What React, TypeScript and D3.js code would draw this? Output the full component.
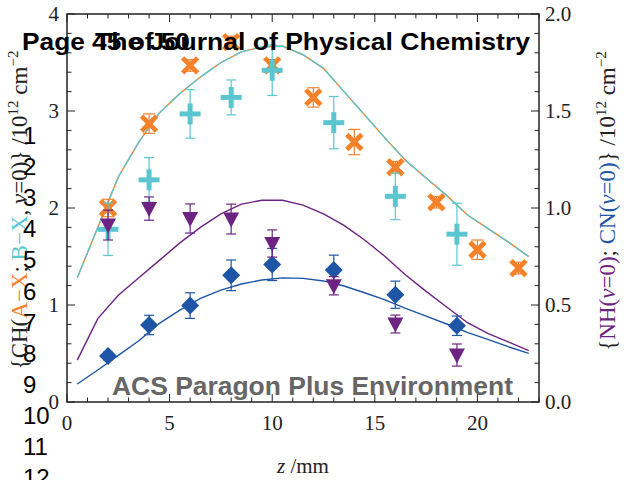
import React from "react";
import * as d3 from "d3";

// ---- data ----
const zOrange = [2, 4, 6, 8, 10, 12, 14, 16, 18, 20, 22];
const chAX = [2.0, 2.87, 3.47, 3.71, 3.47, 3.14, 2.68, 2.42, 2.06, 1.57, 1.38];
const chAXErr = [0.09, 0.1, 0.06, 0.06, 0.06, 0.1, 0.13, 0.06, 0.06, 0.1, 0.06];

const zCyan = [2, 4, 6, 8, 10, 13, 16, 19];
const chBX = [1.78, 2.29, 2.97, 3.14, 3.42, 2.88, 2.12, 1.73];
const chBXErr = [0.27, 0.23, 0.25, 0.18, 0.26, 0.27, 0.24, 0.32];

const zNC = [2, 4, 6, 8, 10, 13, 16, 19];
const nh = [0.912, 0.997, 0.946, 0.943, 0.817, 0.599, 0.402, 0.242];
const nhErr = [0.077, 0.06, 0.075, 0.077, 0.07, 0.047, 0.046, 0.057];
const cn = [0.237, 0.397, 0.497, 0.653, 0.709, 0.68, 0.553, 0.393];
const cnErr = [0.02, 0.05, 0.066, 0.079, 0.083, 0.077, 0.07, 0.05];

const zModel = [0.5, 1.5, 2.5, 3.5, 4.5, 5.5, 6.5, 7.5, 8.5, 9.5, 10.5, 11.5, 12.5, 13.5, 14.5, 15.5, 16.5, 17.5, 18.5, 19.5, 20.5, 21.5, 22.5];
const chModel = [1.28, 1.8, 2.32, 2.68, 2.98, 3.18, 3.35, 3.5, 3.61, 3.66, 3.67, 3.58, 3.44, 3.2, 2.96, 2.72, 2.49, 2.31, 2.13, 1.93, 1.79, 1.65, 1.5];
const nhModel = [0.216, 0.43, 0.55, 0.64, 0.73, 0.82, 0.9, 0.97, 1.02, 1.04, 1.04, 1.015, 0.97, 0.91, 0.835, 0.75, 0.655, 0.57, 0.49, 0.41, 0.354, 0.31, 0.265];
const cnModel = [0.093, 0.165, 0.24, 0.316, 0.405, 0.474, 0.534, 0.577, 0.608, 0.629, 0.64, 0.637, 0.624, 0.598, 0.563, 0.526, 0.483, 0.443, 0.402, 0.359, 0.323, 0.285, 0.251];

const xTicks = [0, 5, 10, 15, 20];
const yLeftTicks = [0, 1, 2, 3, 4];
const yRightTicks = [0, 0.5, 1.0, 1.5, 2.0];
const lineNumbers = [1, 2, 3, 4, 5, 6, 7, 8, 9, 10, 11, 12];

const ORANGE = "#F5822B";
const CYAN = "#5CC6D0";
const PURPLE = "#6D2382";
const BLUE = "#1E55A5";

const SERIF = "'Liberation Serif', 'Times New Roman', serif";
const SANS = "'Liberation Sans', Arial, sans-serif";

export default function App() {
  const W = 624, H = 480;
  const x = d3.scaleLinear().domain([0, 23]).range([67, 539]);
  const yL = d3.scaleLinear().domain([0, 4]).range([402, 14]);
  const yR = d3.scaleLinear().domain([0, 2]).range([402, 14]);
  const [x0, x1] = x.range();
  const [yb, yt] = yL.range();

  const lineL = d3.line<number>().x((_, i) => x(zModel[i])).y((d) => yL(d));
  const lineR = d3.line<number>().x((_, i) => x(zModel[i])).y((d) => yR(d));

  const minorX = d3.range(0, 24, 1);
  const minorL = d3.range(0, 4.001, 0.2);
  const minorR = d3.range(0, 2.001, 0.1);

  const errBar = (cx: number, yTop: number, yBot: number, color: string, cap: number, key: string) => (
    <g key={key} stroke={color} strokeWidth={1.2}>
      <line x1={cx} x2={cx} y1={yTop} y2={yBot} />
      <line x1={cx - cap} x2={cx + cap} y1={yTop} y2={yTop} />
      <line x1={cx - cap} x2={cx + cap} y1={yBot} y2={yBot} />
    </g>
  );

  return (
    <svg width={W} height={H} style={{ position: "absolute", left: 0, top: 0, background: "#fff" }}>
      <rect x={0} y={0} width={W} height={H} fill="#fff" />

      {/* model curves */}
      <path d={lineL(chModel) || ""} fill="none" stroke={ORANGE} strokeWidth={1.4} />
      <path d={lineL(chModel) || ""} fill="none" stroke={CYAN} strokeWidth={1.4} strokeDasharray="16 4" />
      <path d={lineR(nhModel) || ""} fill="none" stroke={PURPLE} strokeWidth={1.4} />
      <path d={lineR(cnModel) || ""} fill="none" stroke={BLUE} strokeWidth={1.4} />

      {/* CH(A-X) orange X */}
      {zOrange.map((z, i) => {
        const cx = x(z), cy = yL(chAX[i]);
        return (
          <g key={"o" + i}>
            {errBar(cx, yL(chAX[i] + chAXErr[i]), yL(chAX[i] - chAXErr[i]), ORANGE, 6, "oe" + i)}
            <g stroke={ORANGE} strokeWidth={4.8}>
              <line x1={cx - 7.5} y1={cy - 7.5} x2={cx + 7.5} y2={cy + 7.5} />
              <line x1={cx - 7.5} y1={cy + 7.5} x2={cx + 7.5} y2={cy - 7.5} />
            </g>
          </g>
        );
      })}

      {/* CH(B-X) cyan + */}
      {zCyan.map((z, i) => {
        const cx = x(z), cy = yL(chBX[i]);
        return (
          <g key={"c" + i}>
            {errBar(cx, yL(chBX[i] + chBXErr[i]), yL(chBX[i] - chBXErr[i]), CYAN, 5, "ce" + i)}
            <g stroke={CYAN} strokeWidth={5}>
              <line x1={cx - 10.5} y1={cy} x2={cx + 10.5} y2={cy} />
              <line x1={cx} y1={cy - 10.5} x2={cx} y2={cy + 10.5} />
            </g>
          </g>
        );
      })}

      {/* CN blue diamonds */}
      {zNC.map((z, i) => {
        const cx = x(z), cy = yR(cn[i]);
        return (
          <g key={"b" + i}>
            {errBar(cx, yR(cn[i] + cnErr[i]), yR(cn[i] - cnErr[i]), BLUE, 5, "be" + i)}
            <path d={`M${cx},${cy - 9}L${cx + 9},${cy}L${cx},${cy + 9}L${cx - 9},${cy}Z`} fill={BLUE} />
          </g>
        );
      })}

      {/* NH purple triangles */}
      {zNC.map((z, i) => {
        const cx = x(z), cy = yR(nh[i]);
        return (
          <g key={"p" + i}>
            {errBar(cx, yR(nh[i] + nhErr[i]), yR(nh[i] - nhErr[i]), PURPLE, 5, "pe" + i)}
            <path d={`M${cx - 8},${cy - 6.5}L${cx + 8},${cy - 6.5}L${cx},${cy + 8.5}Z`} fill={PURPLE} />
          </g>
        );
      })}

      {/* axes frame */}
      <rect x={x0} y={yt} width={x1 - x0} height={yb - yt} fill="none" stroke="#222" strokeWidth={1.5} />

      {/* x ticks (bottom & top) */}
      {minorX.map((t) => {
        const major = t % 5 === 0;
        const len = major ? 8 : 4.5;
        return (
          <g key={"xt" + t} stroke="#222" strokeWidth={1}>
            <line x1={x(t)} x2={x(t)} y1={yb} y2={yb - len} />
            <line x1={x(t)} x2={x(t)} y1={yt} y2={yt + len} />
          </g>
        );
      })}
      {/* left ticks */}
      {minorL.map((t, i) => {
        const major = i % 5 === 0;
        const len = major ? 8 : 4.5;
        return <line key={"yl" + i} x1={x0} x2={x0 + len} y1={yL(t)} y2={yL(t)} stroke="#222" strokeWidth={1} />;
      })}
      {/* right ticks */}
      {minorR.map((t, i) => {
        const major = i % 5 === 0;
        const len = major ? 8 : 4.5;
        return <line key={"yr" + i} x1={x1} x2={x1 - len} y1={yR(t)} y2={yR(t)} stroke="#222" strokeWidth={1} />;
      })}

      {/* tick labels */}
      <g fontFamily={SERIF} fontSize={21} fill="#222">
        {xTicks.map((t) => (
          <text key={"xl" + t} x={x(t)} y={430} textAnchor="middle">{t}</text>
        ))}
        {yLeftTicks.map((t) => (
          <text key={"ll" + t} x={59} y={yL(t) + 7} textAnchor="end">{t}</text>
        ))}
        {yRightTicks.map((t) => (
          <text key={"rl" + t} x={545} y={yR(t) + 7} textAnchor="start">{t.toFixed(1)}</text>
        ))}
      </g>

      {/* x axis title */}
      <text x={303} y={473} textAnchor="middle" fontFamily={SERIF} fontSize={21} fill="#222">
        <tspan fontStyle="italic">z</tspan> /mm
      </text>

      {/* left axis title */}
      <text transform={`translate(27,${210}) rotate(-90)`} textAnchor="middle" fontFamily={SERIF} fontSize={23} fill="#222">
        <tspan>{"{CH("}</tspan>
        <tspan fill={ORANGE}>A−X</tspan>
        <tspan>; </tspan>
        <tspan fill={CYAN}>B−X</tspan>
        <tspan>, </tspan>
        <tspan fontStyle="italic">ν</tspan>
        <tspan>{"=0)} /10"}</tspan>
        <tspan fontSize={15} dy={-9}>12</tspan>
        <tspan dy={9}> cm</tspan>
        <tspan fontSize={15} dy={-9}>−2</tspan>
      </text>

      {/* right axis title */}
      <text transform={`translate(615,${201}) rotate(-90)`} textAnchor="middle" fontFamily={SERIF} fontSize={23} fill="#222">
        <tspan>{"{"}</tspan>
        <tspan fill={PURPLE}>NH(<tspan fontStyle="italic">ν</tspan>=0)</tspan>
        <tspan>; </tspan>
        <tspan fill={BLUE}>CN(<tspan fontStyle="italic">ν</tspan>=0)</tspan>
        <tspan>{"} /10"}</tspan>
        <tspan fontSize={15} dy={-9}>12</tspan>
        <tspan dy={9}> cm</tspan>
        <tspan fontSize={15} dy={-9}>−2</tspan>
      </text>

      {/* overlay page texts */}
      <g fontFamily={SANS} fontWeight="bold" fontSize={23} fill="#000">
        <text x={22} y={50} textLength={168} lengthAdjust="spacingAndGlyphs">Page 45 of 50</text>
        <text x={95} y={50} textLength={435} lengthAdjust="spacingAndGlyphs">The Journal of Physical Chemistry</text>
      </g>
      <text x={112} y={395} textLength={401} lengthAdjust="spacingAndGlyphs" fontFamily={SANS} fontWeight="bold" fontSize={25} fill="#666">
        ACS Paragon Plus Environment
      </text>
      <g fontFamily={SANS} fontSize={24} fill="#000">
        {lineNumbers.map((n, i) => (
          <text key={"ln" + n} x={23} y={144 + i * 31.1}>{n}</text>
        ))}
      </g>
    </svg>
  );
}
